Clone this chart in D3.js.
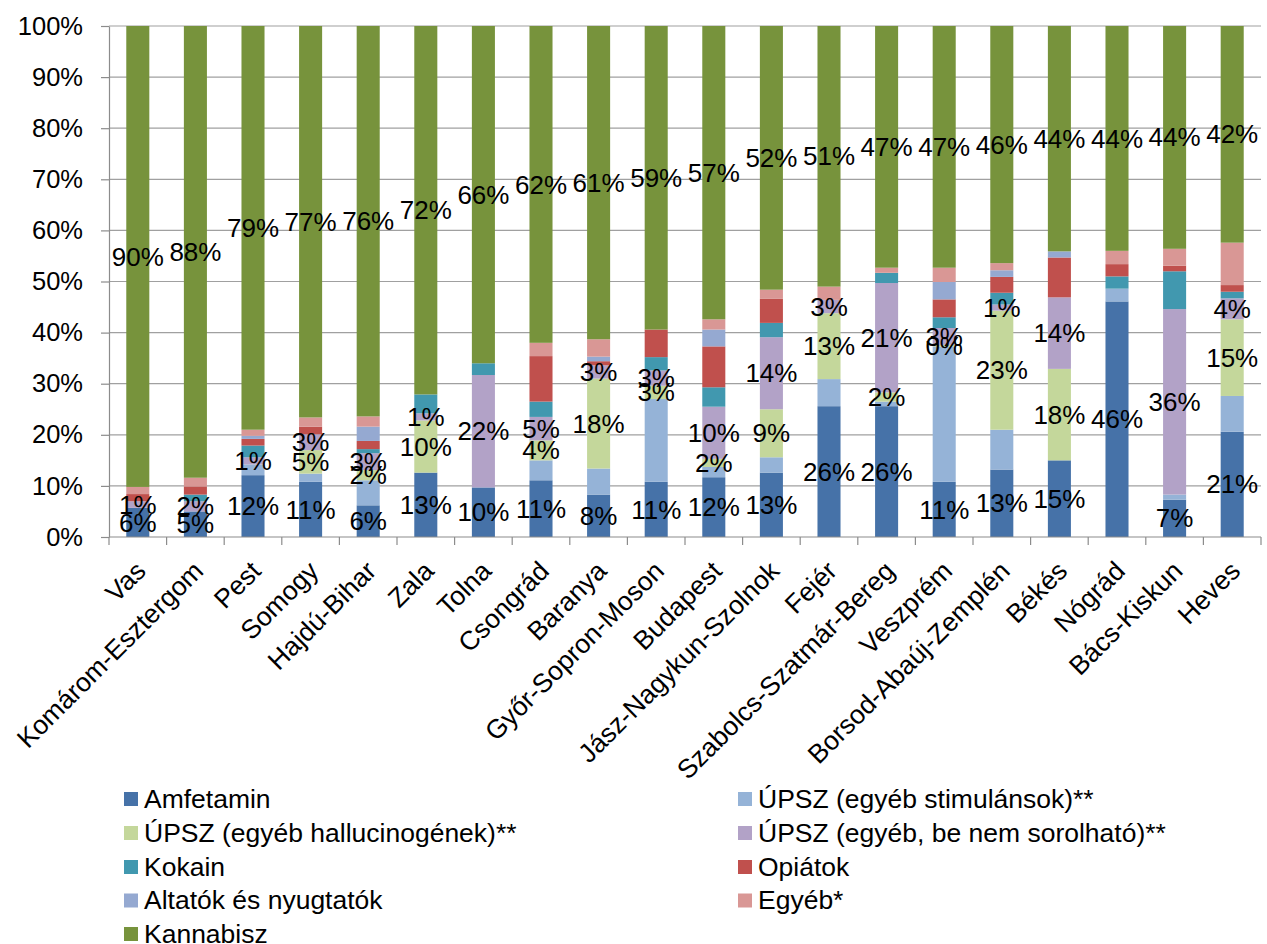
<!DOCTYPE html>
<html>
<head>
<meta charset="utf-8">
<script src="https://cdn.jsdelivr.net/npm/d3@7"></script>
<style>
  html, body { margin: 0; padding: 0; background: #ffffff; }
  svg { display: block; font-family: "Liberation Sans", Arial, sans-serif; }
</style>
</head>
<body>
<svg id="chart" width="1267" height="944"></svg>
<script>
// Megyék (kategóriák)
const categories = ["Vas", "Komárom-Esztergom", "Pest", "Somogy", "Hajdú-Bihar", "Zala", "Tolna",
  "Csongrád", "Baranya", "Győr-Sopron-Moson", "Budapest", "Jász-Nagykun-Szolnok", "Fejér",
  "Szabolcs-Szatmár-Bereg", "Veszprém", "Borsod-Abaúj-Zemplén", "Békés", "Nógrád", "Bács-Kiskun", "Heves"];

// Szerek részesedése megyénként (%), null = nincs adat
const amfetamin     = [5.7, 5.0, 12.1, 10.8, 6.2, 12.6, 9.7, 11.1, 8.3, 10.8, 11.7, 12.6, 25.6, 25.6, 10.8, 13.2, 15.0, 46.1, 7.3, 20.6];
const upszStimulans = [null, null, 2.1, 1.6, 4.9, null, null, 3.9, 5.1, 16.2, 2.0, 3.0, 5.3, 0.9, 26.5, 7.8, null, 2.5, 1.0, 7.0];
const upszHallucin  = [null, null, null, 4.6, 2.0, 10.2, null, 3.9, 17.6, 2.6, 1.6, 9.4, 12.9, 1.8, 0.3, 23.3, 17.9, null, null, 15.0];
const upszEgyeb     = [1.3, 2.0, 1.4, 3.1, 3.3, 1.4, 22.0, 4.6, 2.6, 3.0, 10.2, 14.1, 2.6, 21.4, 3.3, 1.2, 14.0, null, 36.3, 4.1];
const kokain        = [null, 1.3, 2.3, null, 0.8, 3.7, 2.3, 3.0, null, 2.6, 3.8, 2.8, null, 2.0, 2.1, 2.3, null, 2.4, 7.4, 1.3];
const opiatok       = [1.4, 1.6, 1.3, 1.5, 1.6, null, null, 8.9, 0.8, 5.4, 8.0, 4.7, null, null, 3.5, 3.1, 7.8, 2.4, 1.1, 1.3];
const altatok       = [null, null, 0.6, null, 2.8, null, null, null, 0.9, null, 3.3, null, null, null, 3.4, 1.3, 1.2, null, null, null];
const egyeb         = [1.4, 1.7, 1.2, 1.8, 2.0, null, null, 2.6, 3.4, null, 2.0, 1.8, 2.6, 1.0, 2.8, 1.4, null, 2.6, 3.3, 8.3];
const kannabisz     = [90.2, 88.4, 79.0, 76.6, 76.4, 72.1, 66.0, 62.0, 61.3, 59.4, 57.4, 51.6, 51.0, 47.3, 47.3, 46.4, 44.1, 44.0, 43.6, 42.4];

// Tengelyfeliratok
const yTicks = [0, 10, 20, 30, 40, 50, 60, 70, 80, 90, 100];

// Sorozatok: név, értékek, szín, címkézett-e
const series = [
  { name: "Amfetamin", values: amfetamin, color: "#4672A8", labels: true },
  { name: "ÚPSZ (egyéb stimulánsok)**", values: upszStimulans, color: "#95B3D7", labels: false },
  { name: "ÚPSZ (egyéb hallucinogének)**", values: upszHallucin, color: "#C4D79B", labels: true },
  { name: "ÚPSZ (egyéb, be nem sorolható)**", values: upszEgyeb, color: "#B2A2C7", labels: true },
  { name: "Kokain", values: kokain, color: "#4198AF", labels: false },
  { name: "Opiátok", values: opiatok, color: "#C0504D", labels: false },
  { name: "Altatók és nyugtatók", values: altatok, color: "#95A9D1", labels: false },
  { name: "Egyéb*", values: egyeb, color: "#D99795", labels: false },
  { name: "Kannabisz", values: kannabisz, color: "#77933C", labels: true }
];

const rows = categories.map((c, i) => {
  const r = { cat: c };
  series.forEach(s => { r[s.name] = s.values[i]; });
  return r;
});

const svg = d3.select("#chart");
svg.append("rect").attr("width", 1267).attr("height", 944).attr("fill", "#ffffff");

const plotLeft = 109, plotRight = 1261, plotTop = 26, plotBottom = 537;

const x = d3.scaleBand().domain(categories).range([plotLeft, plotRight]).paddingInner(0.6).paddingOuter(0.3);
const y = d3.scaleLinear().domain([0, 100]).range([plotBottom, plotTop]);

// Rácsvonalak
svg.append("g").selectAll("line")
  .data(yTicks.filter(t => t > 0))
  .join("line")
  .attr("x1", plotLeft).attr("x2", plotRight)
  .attr("y1", d => y(d)).attr("y2", d => y(d))
  .attr("stroke", "#A0A0A0").attr("stroke-width", 1.2);

// Halmozott oszlopok
const stack = d3.stack()
  .keys(series.map(s => s.name))
  .value((d, k) => d[k] == null ? 0 : d[k]);
const stacked = stack(rows);

const layers = svg.append("g").selectAll("g")
  .data(stacked)
  .join("g")
  .attr("fill", (d, i) => series[i].color);

layers.selectAll("rect")
  .data(d => d.filter(p => p[1] - p[0] > 0))
  .join("rect")
  .attr("x", p => x(p.data.cat))
  .attr("width", x.bandwidth())
  .attr("y", p => y(p[1]))
  .attr("height", p => y(p[0]) - y(p[1]));

// Y tengely
const yAxis = svg.append("g")
  .attr("transform", `translate(${plotLeft},0)`)
  .call(d3.axisLeft(y).tickValues(yTicks).tickSize(8).tickSizeOuter(0).tickPadding(18).tickFormat(d => d + "%"));
yAxis.select(".domain").attr("stroke", "#8C8C8C").attr("stroke-width", 1.2);
yAxis.selectAll(".tick line").attr("stroke", "#8C8C8C").attr("stroke-width", 1.2);
yAxis.selectAll(".tick text")
  .attr("font-family", "'Liberation Sans', Arial, sans-serif")
  .attr("font-size", 25.5).attr("fill", "#000");

// X tengely
const xg = svg.append("g");
xg.append("line").attr("x1", plotLeft).attr("x2", plotRight).attr("y1", plotBottom).attr("y2", plotBottom)
  .attr("stroke", "#8C8C8C").attr("stroke-width", 1.2);
const boundaries = categories.map(c => x(c) - (x.step() - x.bandwidth()) / 2);
boundaries.push(plotRight);
xg.selectAll("line.tk").data(boundaries).join("line").attr("class", "tk")
  .attr("x1", d => d).attr("x2", d => d).attr("y1", plotBottom).attr("y2", plotBottom + 8)
  .attr("stroke", "#8C8C8C").attr("stroke-width", 1.2);

xg.selectAll("text").data(categories).join("text")
  .attr("transform", c => `translate(${x(c) + x.bandwidth() / 2 + 3},${plotBottom + 29}) rotate(-45)`)
  .attr("text-anchor", "end")
  .attr("dy", "0.35em")
  .attr("font-size", 26.5)
  .attr("fill", "#000")
  .text(c => c);

// Adatcímkék
const labelData = [];
stacked.forEach((layer, i) => {
  if (!series[i].labels) return;
  layer.forEach(p => {
    const v = p.data[series[i].name];
    if (v == null) return;
    labelData.push({ cat: p.data.cat, mid: (p[0] + p[1]) / 2, value: v });
  });
});
svg.append("g").selectAll("text").data(labelData).join("text")
  .attr("x", d => x(d.cat) + x.bandwidth() / 2)
  .attr("y", d => y(d.mid))
  .attr("dy", "0.35em")
  .attr("text-anchor", "middle")
  .attr("font-size", 26)
  .attr("fill", "#000")
  .text(d => Math.round(d.value) + "%");

// Jelmagyarázat
const legendCols = [124, 738];
const legendRowY = [799, 833, 867, 900.5, 934];
const lg = svg.append("g").selectAll("g").data(series).join("g")
  .attr("transform", (s, i) => `translate(${legendCols[i % 2]},${legendRowY[Math.floor(i / 2)]})`);
lg.append("rect").attr("x", 0).attr("y", -7).attr("width", 14).attr("height", 14).attr("fill", s => s.color);
lg.append("text")
  .attr("transform", "translate(20,0) scale(1.06,1)")
  .attr("dy", "0.35em").attr("font-size", 25).attr("fill", "#000").text(s => s.name);
</script>
</body>
</html>
